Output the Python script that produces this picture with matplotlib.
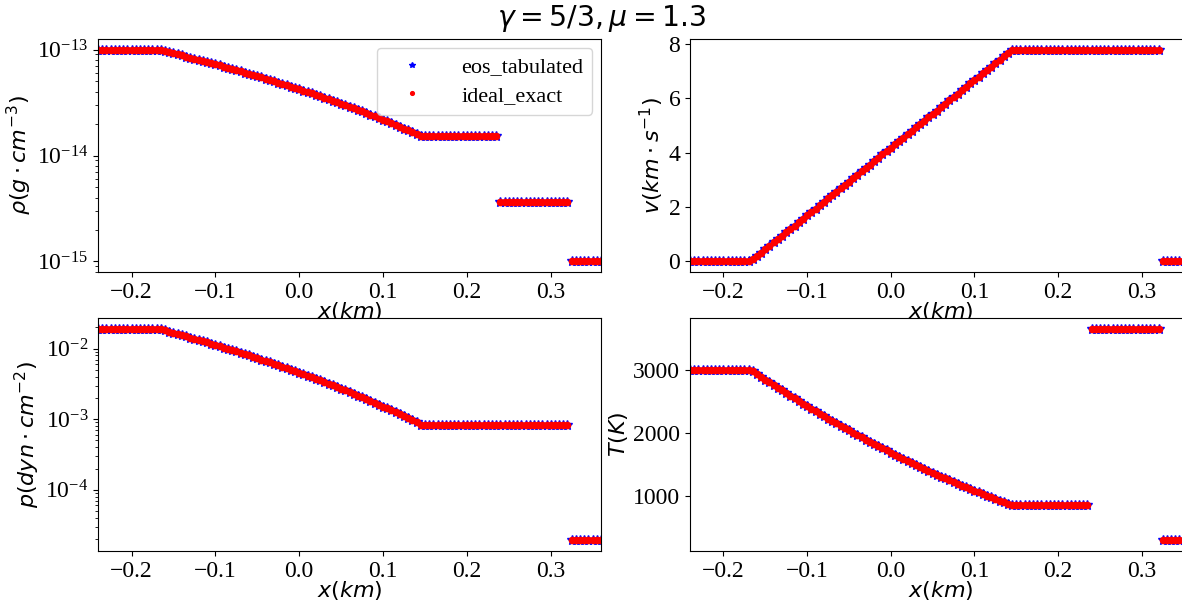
import matplotlib
matplotlib.use('Agg')
import matplotlib.pyplot as plt
from matplotlib.ticker import MultipleLocator
import numpy as np

# grid step of the samples (km)
dx = 0.005

# plateau edges (km): left state, region behind rarefaction, post-shock, right state
left_edges = [-0.240, -0.170]
star_edges = [0.145, 0.235]
shock_edges = [0.240, 0.320]
right_edges = [0.325, 0.360]

# plateau values: left, behind rarefaction, post-shock, right
rho_levels = [1.0e-13, 1.53e-14, 3.6e-15, 1.0e-15]
v_levels = [0.0, 7.8, 7.8, 0.0]
p_levels = [1.92e-2, 8.4e-4, 8.4e-4, 1.92e-5]
T_levels = [3000, 860, 3650, 300]

# rarefaction fan, x = -0.165 ... 0.140
rho_fan = [9.867, 9.647, 9.431, 9.218, 9.009, 8.802, 8.599, 8.399, 8.202, 8.008,
           7.817, 7.629, 7.444, 7.263, 7.084, 6.908, 6.735, 6.565, 6.398, 6.234,
           6.073, 5.914, 5.758, 5.605, 5.455, 5.307, 5.162, 5.020, 4.881, 4.744,
           4.609, 4.477, 4.348, 4.221, 4.097, 3.975, 3.856, 3.739, 3.624, 3.512,
           3.402, 3.295, 3.189, 3.086, 2.986, 2.887, 2.791, 2.697, 2.604, 2.515,
           2.427, 2.341, 2.257, 2.176, 2.096, 2.018, 1.942, 1.868, 1.797, 1.726,
           1.658, 1.592]  # 1e-14 g/cm^3
v_fan = [0.075, 0.199, 0.324, 0.449, 0.573, 0.698, 0.822, 0.947, 1.072, 1.196,
         1.321, 1.445, 1.570, 1.695, 1.819, 1.944, 2.068, 2.193, 2.318, 2.442,
         2.567, 2.691, 2.816, 2.941, 3.065, 3.190, 3.314, 3.439, 3.564, 3.688,
         3.813, 3.937, 4.062, 4.187, 4.311, 4.436, 4.560, 4.685, 4.810, 4.934,
         5.059, 5.183, 5.308, 5.433, 5.557, 5.682, 5.806, 5.931, 6.056, 6.180,
         6.305, 6.429, 6.554, 6.679, 6.803, 6.928, 7.052, 7.177, 7.302, 7.426,
         7.551, 7.675]
p_fan = [18.78, 18.08, 17.41, 16.76, 16.13, 15.52, 14.93, 14.35, 13.80, 13.26,
         12.74, 12.23, 11.74, 11.27, 10.81, 10.36, 9.936, 9.522, 9.121, 8.735,
         8.361, 8.000, 7.652, 7.316, 6.992, 6.680, 6.378, 6.088, 5.809, 5.540,
         5.281, 5.031, 4.791, 4.561, 4.339, 4.126, 3.922, 3.726, 3.537, 3.357,
         3.183, 3.017, 2.858, 2.706, 2.561, 2.421, 2.288, 2.161, 2.039, 1.923,
         1.813, 1.707, 1.607, 1.511, 1.420, 1.333, 1.251, 1.173, 1.098, 1.028,
         0.961, 0.898]  # 1e-3 dyn/cm^2
T_fan = [2973, 2929, 2885, 2842, 2798, 2755, 2713, 2671, 2629, 2587,
         2546, 2505, 2464, 2424, 2384, 2344, 2305, 2266, 2228, 2189,
         2151, 2114, 2076, 2039, 2003, 1967, 1931, 1895, 1860, 1825,
         1790, 1756, 1722, 1688, 1655, 1622, 1589, 1557, 1525, 1493,
         1462, 1431, 1400, 1370, 1340, 1310, 1281, 1252, 1223, 1195,
         1167, 1139, 1112, 1085, 1059, 1032, 1006, 980, 955, 930,
         905, 881]
fan_start = -0.165


def build(levels, fan, scale):
    xs, ys = [], []
    segs = [left_edges, None, star_edges, shock_edges, right_edges]
    lev = [levels[0], None, levels[1], levels[2], levels[3]]
    for seg, val in zip(segs, lev):
        if seg is None:
            xf = fan_start + dx * np.arange(len(fan))
            xs.append(xf)
            ys.append(np.array(fan) * scale)
        else:
            xp = np.arange(seg[0], seg[1] + dx / 2, dx)
            xs.append(xp)
            ys.append(np.full(len(xp), val))
    return np.concatenate(xs), np.concatenate(ys)


x_rho, rho = build(rho_levels, rho_fan, 1e-14)
x_v, v = build(v_levels, v_fan, 1.0)
x_p, p = build(p_levels, p_fan, 1e-3)
x_T, T = build(T_levels, T_fan, 1.0)

plt.rcParams['font.family'] = ['Liberation Serif', 'DejaVu Serif']
plt.rcParams['mathtext.fontset'] = 'dejavusans'
plt.rcParams['font.size'] = 17

fig = plt.figure(figsize=(11.82, 6.01), dpi=100)
W, H = 1182.0, 601.0
boxes = [(98, 39, 601, 272), (690, 39, 1192, 272),
         (98, 318, 601, 551), (690, 318, 1192, 551)]
axes = []
for (l, t, r, b) in boxes:
    axes.append(fig.add_axes([l / W, 1 - b / H, (r - l) / W, (b - t) / H]))

panels = [(x_rho, rho, r'$\rho(g\cdot cm^{-3})$', True),
          (x_v, v, r'$v(km\cdot s^{-1})$', False),
          (x_p, p, r'$p(dyn\cdot cm^{-2})$', True),
          (x_T, T, r'$T(K)$', False)]

for ax, (xx, yy, lab, logy) in zip(axes, panels):
    ax.plot(xx, yy, 'b*', ms=7, label='eos_tabulated')
    ax.plot(xx, yy, 'r.', ms=9, label='ideal_exact')
    if logy:
        ax.set_yscale('log')
    ax.set_xlim(-0.24, 0.36)
    ax.set_xlabel(r'$x(km)$', fontsize=16, labelpad=-2)
    ax.set_ylabel(lab, fontsize=16, labelpad=2)

axes[1].yaxis.set_major_locator(MultipleLocator(2))
axes[3].yaxis.set_major_locator(MultipleLocator(1000))

axes[0].legend(loc='upper right', fontsize=16, markerscale=0.6, handlelength=2.4,
               handletextpad=1.0, labelspacing=0.35, borderaxespad=0.4)
fig.suptitle(r'$\gamma=5/3, \mu=1.3$', x=0.509, y=0.995)

fig.savefig('out.png', dpi=100)
